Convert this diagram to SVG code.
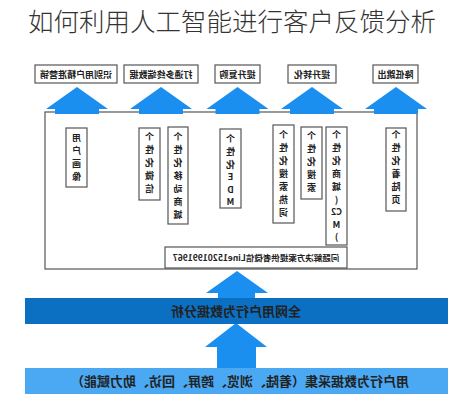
<svg xmlns="http://www.w3.org/2000/svg" width="465" height="400" viewBox="0 0 465 400">
<style>
.t{font-family:"Noto Sans CJK SC","Liberation Sans",sans-serif;fill:#222;font-weight:bold;text-anchor:middle}
.box{fill:#fff;stroke:#555;stroke-width:1.2}
.arr{fill:#1a8ff0}
.title{font-family:"Noto Sans CJK SC","Noto Sans",sans-serif;font-size:25.5px;fill:#333;font-weight:300}
</style>
<rect width="465" height="400" fill="#fff"/>
<text class="title" x="232" y="31" text-anchor="middle">如何利用人工智能进行客户反馈分析</text>

<g id="main">
<rect class="box" x="45" y="112" width="372" height="157" stroke-width="1.5"/>
</g>

<g id="connectors">
<path class="arr" d="M77 87 L108 109 L99 109 L99 114 L55 114 L55 109 L46 109 Z"/>
<path class="arr" d="M161 87 L192 109 L183 109 L183 114 L139 114 L139 109 L130 109 Z"/>
<path class="arr" d="M237.5 87 L268.5 109 L259.5 109 L259.5 114 L215.5 114 L215.5 109 L206.5 109 Z"/>
<path class="arr" d="M312 87 L343 109 L334 109 L334 114 L290 114 L290 109 L281 109 Z"/>
<path class="arr" d="M396 87 L427 109 L418 109 L418 114 L374 114 L374 109 L365 109 Z"/>
<path class="arr" d="M237 271 L268 293 L255 293 L255 299 L218 299 L218 293 L206 293 Z"/>
<path class="arr" d="M236 323 L267 347 L256 347 L256 369 L217 369 L217 347 L205 347 Z"/>
</g>

<g id="top1"><rect class="box" x="35" y="65" width="82" height="18"/><text class="t" font-size="9" x="76" y="77.5" transform="matrix(-1 0 0 1 152 0)">识别用户精准营销</text></g>
<g id="top2"><rect class="box" x="124" y="65" width="74" height="18"/><text class="t" font-size="9" x="161" y="77.5" transform="matrix(-1 0 0 1 322 0)">打通多终端数据</text></g>
<g id="top3"><rect class="box" x="215" y="65" width="45" height="18"/><text class="t" font-size="9" x="237.5" y="77.5" transform="matrix(-1 0 0 1 475 0)">提升复购</text></g>
<g id="top4"><rect class="box" x="288" y="65" width="48" height="18"/><text class="t" font-size="9" x="312" y="77.5" transform="matrix(-1 0 0 1 624 0)">提升转化</text></g>
<g id="top5"><rect class="box" x="373" y="65" width="45" height="18"/><text class="t" font-size="9" x="395.5" y="77.5" transform="matrix(-1 0 0 1 791 0)">降低跳出</text></g>

<g id="v1"><rect class="box" x="66" y="128" width="21" height="59"/>
<text class="t" font-size="9" transform="matrix(-1 0 0 1 153 0)"><tspan x="76.5" y="141">用</tspan><tspan x="76.5" y="154">户</tspan><tspan x="76.5" y="167">画</tspan><tspan x="76.5" y="180">像</tspan></text></g>
<g id="v2"><rect class="box" x="139" y="128" width="21" height="72"/>
<text class="t" font-size="9" transform="matrix(-1 0 0 1 299 0)"><tspan x="149.5" y="140">个</tspan><tspan x="149.5" y="153">性</tspan><tspan x="149.5" y="166">化</tspan><tspan x="149.5" y="179">微</tspan><tspan x="149.5" y="192">信</tspan></text></g>
<g id="v3"><rect class="box" x="168" y="127" width="20" height="97"/>
<text class="t" font-size="9" transform="matrix(-1 0 0 1 356 0)"><tspan x="178" y="140">个</tspan><tspan x="178" y="153">性</tspan><tspan x="178" y="166">化</tspan><tspan x="178" y="179">移</tspan><tspan x="178" y="192">动</tspan><tspan x="178" y="205">商</tspan><tspan x="178" y="218">城</tspan></text></g>
<g id="v4"><rect class="box" x="220" y="129" width="21" height="79"/>
<text class="t" font-size="9" transform="matrix(-1 0 0 1 461 0)"><tspan x="230.5" y="142">个</tspan><tspan x="230.5" y="155">性</tspan><tspan x="230.5" y="168">化</tspan><tspan x="230.5" y="180">E</tspan><tspan x="230.5" y="192.5">D</tspan><tspan x="230.5" y="205">M</tspan></text></g>
<g id="v5"><rect class="box" x="273" y="125" width="21" height="98"/>
<text class="t" font-size="9" transform="matrix(-1 0 0 1 567 0)"><tspan x="283.5" y="138">个</tspan><tspan x="283.5" y="151">性</tspan><tspan x="283.5" y="164">化</tspan><tspan x="283.5" y="177">搜</tspan><tspan x="283.5" y="190">索</tspan><tspan x="283.5" y="203">热</tspan><tspan x="283.5" y="216">词</tspan></text></g>
<g id="v6"><rect class="box" x="301" y="127" width="21" height="72"/>
<text class="t" font-size="9" transform="matrix(-1 0 0 1 623 0)"><tspan x="311.5" y="139">个</tspan><tspan x="311.5" y="152">性</tspan><tspan x="311.5" y="165">化</tspan><tspan x="311.5" y="178">搜</tspan><tspan x="311.5" y="191">索</tspan></text></g>
<g id="v7"><rect class="box" x="326" y="127" width="21" height="118"/>
<text class="t" font-size="9" transform="matrix(-1 0 0 1 673 0)"><tspan x="336.5" y="138">个</tspan><tspan x="336.5" y="151">性</tspan><tspan x="336.5" y="164">化</tspan><tspan x="336.5" y="177">商</tspan><tspan x="336.5" y="190">城</tspan><tspan x="336.5" y="202.5">(</tspan><tspan x="336.5" y="215">C2</tspan><tspan x="336.5" y="227.5">M</tspan><tspan x="336.5" y="240">)</tspan></text></g>
<g id="v8"><rect class="box" x="386" y="128" width="20" height="83"/>
<text class="t" font-size="9" transform="matrix(-1 0 0 1 792 0)"><tspan x="396" y="138">个</tspan><tspan x="396" y="151">性</tspan><tspan x="396" y="164">化</tspan><tspan x="396" y="177">着</tspan><tspan x="396" y="190">陆</tspan><tspan x="396" y="203">页</tspan></text></g>

<g id="note"><rect class="box" x="165" y="247" width="182" height="21"/><text class="t" font-size="8.5" x="256" y="261" transform="matrix(-1 0 0 1 512 0)">问题解决方案提供者微信Line15201991967</text></g>

<g id="band1"><rect x="25" y="298" width="423" height="26" fill="#0b6fc2"/><text class="t" font-size="13" x="236" y="315.5" fill="#111" transform="matrix(-1 0 0 1 472 0)">全网用户行为数据分析</text></g>
<g id="band2"><rect x="25" y="368" width="423" height="26" fill="#4aa9f2"/><text class="t" font-size="13" x="240" y="385.5" transform="matrix(-1 0 0 1 480 0)">用户行为数据采集（着陆、浏览、跨屏、回访、助力赋能）</text></g>
</svg>
